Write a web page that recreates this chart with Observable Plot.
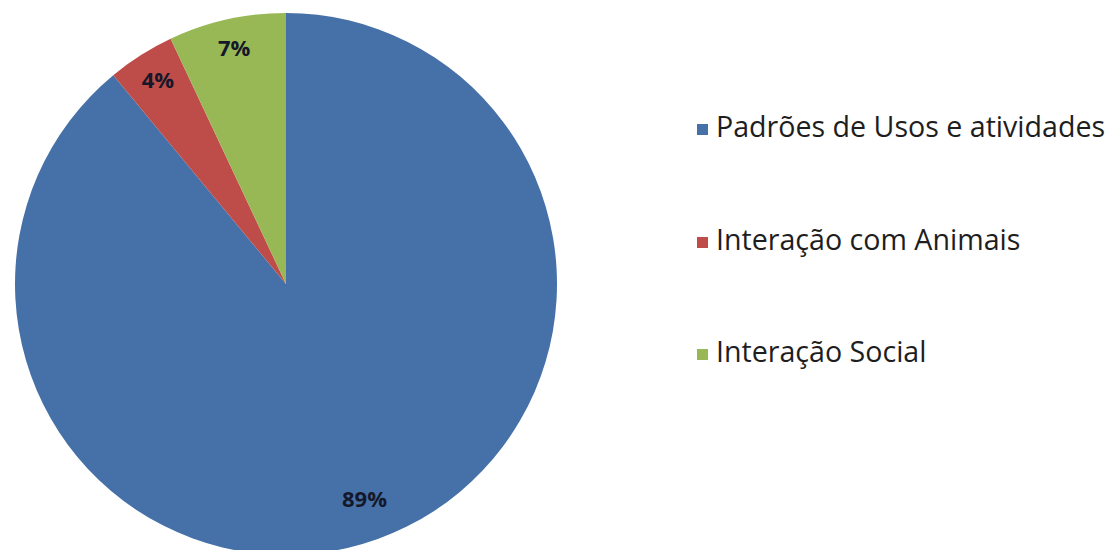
<!DOCTYPE html>
<html>
<head>
<meta charset="utf-8">
<script src="https://cdn.jsdelivr.net/npm/d3@7"></script>
<script src="https://cdn.jsdelivr.net/npm/@observablehq/plot@0.6"></script>
<style>
  html, body { margin: 0; padding: 0; background: #fff; }
  #wrap { position: relative; width: 1113px; height: 550px; overflow: hidden; }
  #legend { position: absolute; left: 697px; top: 107px; font-family: "Open Sans", sans-serif; font-size: 28.6px; color: #1e1e1e; }
  .row { position: relative; height: 112.5px; line-height: 38px; white-space: nowrap; }
  .sw { display: inline-block; width: 11px; height: 11px; margin-right: 8px; vertical-align: 2px; }
</style>
</head>
<body>
<div id="wrap"></div>
<script>
const categories = ["Padrões de Usos e atividades", "Interação com Animais", "Interação Social"];
const values = [89, 4, 7];
const labels = ["89%", "4%", "7%"];
const colors = ["#4671a8", "#be4c49", "#98b855"];

const pie = d3.pie().sort(null).value(d => d.value)(
  categories.map((c, i) => ({category: c, value: values[i], label: labels[i]}))
);
const labelData = pie.map(p => {
  const mid = (p.startAngle + p.endAngle) / 2;
  const r = (p.endAngle - p.startAngle) > Math.PI ? 0.85 : 0.885;
  return {label: p.data.label, x: r * Math.sin(mid), y: r * Math.cos(mid)};
});

function slices(index, scales) {
  const cx = scales.x(0), cy = scales.y(0);
  const r = scales.x(1) - scales.x(0);
  const arc = d3.arc().innerRadius(0).outerRadius(r);
  const g = d3.create("svg:g").attr("transform", `translate(${cx},${cy})`);
  g.selectAll("path").data(pie).join("path")
    .attr("d", arc)
    .attr("fill", (d, i) => colors[i]);
  return g.node();
}

const chart = Plot.plot({
  width: 600,
  height: 550,
  margin: 0,
  x: {domain: [-1, 1], range: [15, 557], axis: null},
  y: {domain: [-1, 1], range: [555, 13], axis: null},
  marks: [
    slices,
    Plot.text(labelData, {
      x: "x", y: "y", text: "label",
      fontSize: 22, fontWeight: "bold", fill: "#15182a",
      fontFamily: "Open Sans", dy: -1
    })
  ]
});
chart.style.position = "absolute";
chart.style.left = "0px";
chart.style.top = "0px";
const wrap = document.getElementById("wrap");
wrap.appendChild(chart);

const legend = document.createElement("div");
legend.id = "legend";
categories.forEach((c, i) => {
  const row = document.createElement("div");
  row.className = "row";
  const sw = document.createElement("span");
  sw.className = "sw";
  sw.style.background = colors[i];
  row.appendChild(sw);
  row.appendChild(document.createTextNode(c));
  legend.appendChild(row);
});
wrap.appendChild(legend);
</script>
</body>
</html>
